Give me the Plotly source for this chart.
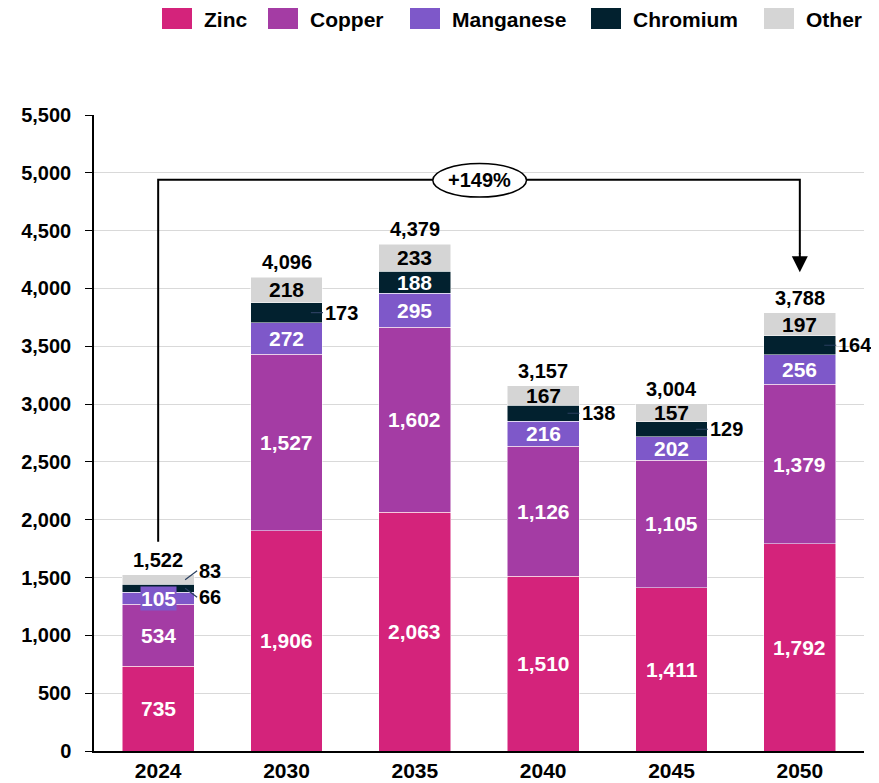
import plotly.graph_objects as go

years = ["2024", "2030", "2035", "2040", "2045", "2050"]
zinc = [735, 1906, 2063, 1510, 1411, 1792]
copper = [534, 1527, 1602, 1126, 1105, 1379]
manganese = [105, 272, 295, 216, 202, 256]
chromium = [66, 173, 188, 138, 129, 164]
other = [83, 218, 233, 167, 157, 197]
totals = [1522, 4096, 4379, 3157, 3004, 3788]
growth_label = "+149%"

series = [
    ("Zinc", zinc, "#D4237B", "white"),
    ("Copper", copper, "#A43CA4", "white"),
    ("Manganese", manganese, "#7E58C9", "white"),
    ("Chromium", chromium, "#02212F", "white"),
    ("Other", other, "#D5D5D5", "black"),
]

FONT = "Liberation Sans, Arial, sans-serif"
BAR_W = 0.56
LBL = 21
OUT = 20

# page body adds 8px, so keep the figure inside the window
W, H = 863, 775
ML, MR, MT, MB = 86, 7, 107, 32
PW, PH = W - ML - MR, H - MT - MB


def px(x):  # screen x -> paper x
    return (x - 8 - ML) / PW


def py(y):  # screen y -> paper y
    return 1 - (y - 8 - MT) / PH


fig = go.Figure()
annotations = []
shapes = []
base = [0] * len(years)
for name, vals, color, txtcol in series:
    fig.add_trace(go.Bar(
        x=years, y=vals, name=name, marker_color=color,
        marker_line=dict(color="white", width=0.5),
        width=BAR_W, showlegend=False, hoverinfo="x+y+name",
    ))
    for i, v in enumerate(vals):
        mid = base[i] + v / 2
        label = f"{v:,}"
        if name == "Chromium" and years[i] != "2035":
            if years[i] == "2024":
                annotations.append(dict(x=i + 0.21, y=mid, text=label, showarrow=True,
                                        arrowhead=0, arrowwidth=1.2, ax=12, ay=9,
                                        xanchor="left", yanchor="middle",
                                        font=dict(size=OUT, color="black")))
            else:
                annotations.append(dict(x=i + 0.19, y=mid, text=label, showarrow=True,
                                        arrowhead=0, arrowwidth=1.2, ax=12, ay=0,
                                        xanchor="left", yanchor="middle",
                                        font=dict(size=OUT, color="black")))
        elif name == "Other" and years[i] == "2024":
            annotations.append(dict(x=i + 0.21, y=mid, text=label, showarrow=True,
                                    arrowhead=0, arrowwidth=1.2, ax=12, ay=-9,
                                    xanchor="left", yanchor="middle",
                                    font=dict(size=OUT, color="black")))
        elif name == "Manganese" and years[i] == "2024":
            annotations.append(dict(x=i, y=mid, text=label, showarrow=False,
                                    bgcolor=color, borderpad=0,
                                    font=dict(size=LBL, color=txtcol)))
        else:
            annotations.append(dict(x=i, y=mid, text=label, showarrow=False,
                                    font=dict(size=LBL, color=txtcol)))
        base[i] += v

for i, t in enumerate(totals):
    annotations.append(dict(x=i, y=base[i], text=f"{t:,}", showarrow=False,
                            yanchor="bottom", yshift=2,
                            font=dict(size=20, color="black")))

# legend drawn by hand: wide swatches like the original
legend_x = [162, 268, 410, 591, 764]
for (name, vals, color, txtcol), lx in zip(series, legend_x):
    shapes.append(dict(type="rect", xref="paper", yref="paper",
                       x0=px(lx), x1=px(lx + 30), y0=py(29), y1=py(7),
                       fillcolor=color, line=dict(width=0)))
    annotations.append(dict(xref="paper", yref="paper", x=px(lx + 40), y=py(19),
                            text=name, showarrow=False, xanchor="left",
                            yanchor="middle", font=dict(size=21, color="black")))

# growth bracket
top_y = 4940
shapes.append(dict(type="path", path=f"M 0,1810 L 0,{top_y} L 5,{top_y} L 5,4300",
                   line=dict(color="black", width=2), layer="above"))
annotations.append(dict(x=5, y=4140, ax=5, ay=4320, axref="x", ayref="y",
                        text="", showarrow=True, arrowhead=2, arrowsize=1.6,
                        arrowwidth=2, arrowcolor="black"))
shapes.append(dict(type="circle", x0=2.14, x1=2.87, y0=4790, y1=5080,
                   line=dict(color="black", width=1.5), fillcolor="white", layer="above"))
annotations.append(dict(x=2.505, y=top_y, text=growth_label, showarrow=False,
                        font=dict(size=20, color="black")))

fig.update_layout(
    barmode="stack",
    width=W, height=H,
    margin=dict(l=ML, r=MR, t=MT, b=MB, autoexpand=False),
    plot_bgcolor="white", paper_bgcolor="white",
    font=dict(family=FONT, color="black", size=15),
    annotations=annotations,
    shapes=shapes,
    showlegend=False,
    bargap=0.44,
)
for a in fig.layout.annotations:
    a.font.weight = "bold"
    a.font.family = FONT

fig.update_yaxes(range=[0, 5500], dtick=500, tickformat=",", showgrid=True,
                 gridcolor="#D9D9D9", gridwidth=1, showline=True, linecolor="black",
                 linewidth=1.5, ticks="outside", ticklen=7, tickcolor="black",
                 ticklabelstandoff=10,
                 tickfont=dict(size=20, weight="bold"), zeroline=False)
fig.update_xaxes(showline=True, linecolor="black", linewidth=1.5, ticks="",
                 tickfont=dict(size=21, weight="bold"), range=[-0.5, 5.5])

fig.write_html("out.html")
